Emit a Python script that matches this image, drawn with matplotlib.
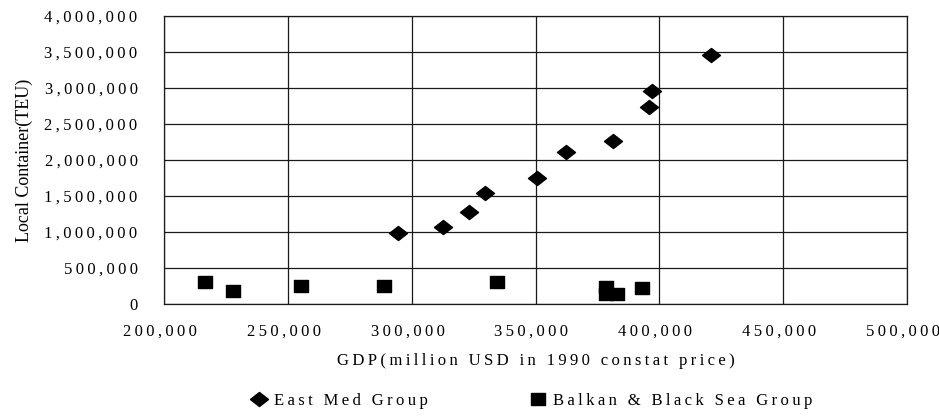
import matplotlib
matplotlib.use("Agg")
import matplotlib.pyplot as plt
from matplotlib.path import Path
from matplotlib.ticker import FuncFormatter, MultipleLocator
from matplotlib.transforms import ScaledTranslation

# GDP (million USD, 1990 constant price) vs local container throughput (TEU)
east_med_gdp = [294600, 312700, 323200, 329500, 350600, 362400, 381200, 395700, 397000, 421000]
east_med_teu = [986000, 1069000, 1272000, 1542000, 1750000, 2106000, 2258000, 2736000, 2963000, 3460000]

balkan_gdp = [216400, 227700, 255400, 288700, 334500, 378600, 378600, 383000, 393100]
balkan_teu = [300000, 175000, 254000, 244000, 300000, 233000, 143000, 136000, 222000]

series_labels = ["East Med Group", "Balkan & Black Sea Group"]
x_label = "GDP(million USD in 1990 constat price)"
y_label = "Local Container(TEU)"

SERIF = ["Liberation Serif", "DejaVu Serif"]
THIN = "\u2009"


def spaced(s):
    return THIN.join(s)


diamond = Path([(-1, 0), (0, 0.78), (1, 0), (0, -0.78), (-1, 0)],
               [Path.MOVETO, Path.LINETO, Path.LINETO, Path.LINETO, Path.CLOSEPOLY])
square = Path([(-1, -0.86), (1, -0.86), (1, 0.86), (-1, 0.86), (-1, -0.86)],
              [Path.MOVETO, Path.LINETO, Path.LINETO, Path.LINETO, Path.CLOSEPOLY])

plt.rcParams["font.family"] = SERIF

fig = plt.figure(figsize=(9.39, 4.17), dpi=100)
ax = fig.add_axes([164 / 939, 1 - 304 / 417, (907 - 164) / 939, (304 - 16) / 417])

ax.plot(east_med_gdp, east_med_teu, linestyle="none", marker=diamond,
        markersize=13, color="black", label=spaced(series_labels[0]))
ax.plot(balkan_gdp, balkan_teu, linestyle="none", marker=square,
        markersize=10, color="black", label=spaced(series_labels[1]))

ax.set_xlim(200000, 500000)
ax.set_ylim(0, 4000000)
ax.xaxis.set_major_locator(MultipleLocator(50000))
ax.yaxis.set_major_locator(MultipleLocator(500000))
fmt = FuncFormatter(lambda v, p: spaced(f"{v:,.0f}"))
ax.xaxis.set_major_formatter(fmt)
ax.yaxis.set_major_formatter(fmt)

ax.grid(True, color="#1a1a1a", linewidth=0.9)
ax.set_axisbelow(True)
for sp in ax.spines.values():
    sp.set_color("#1a1a1a")
    sp.set_linewidth(0.9)

ax.tick_params(axis="both", length=0, labelsize=12)
ax.tick_params(axis="x", pad=14)
ax.tick_params(axis="y", pad=19)

shift = ScaledTranslation(-4 / 100, 0, fig.dpi_scale_trans)
for lbl in ax.xaxis.get_majorticklabels():
    lbl.set_transform(lbl.get_transform() + shift)

ax.set_xlabel(spaced(x_label), fontsize=12, labelpad=10)
ax.set_ylabel(y_label, fontsize=13, labelpad=8)

fig.legend(loc="center", bbox_to_anchor=(531 / 939, 1 - 401 / 417), ncol=2,
           frameon=False, fontsize=12, handlelength=1.2, handletextpad=0.3,
           columnspacing=6.0, borderaxespad=0, markerscale=1.0)

fig.savefig("out.png", dpi=100)
